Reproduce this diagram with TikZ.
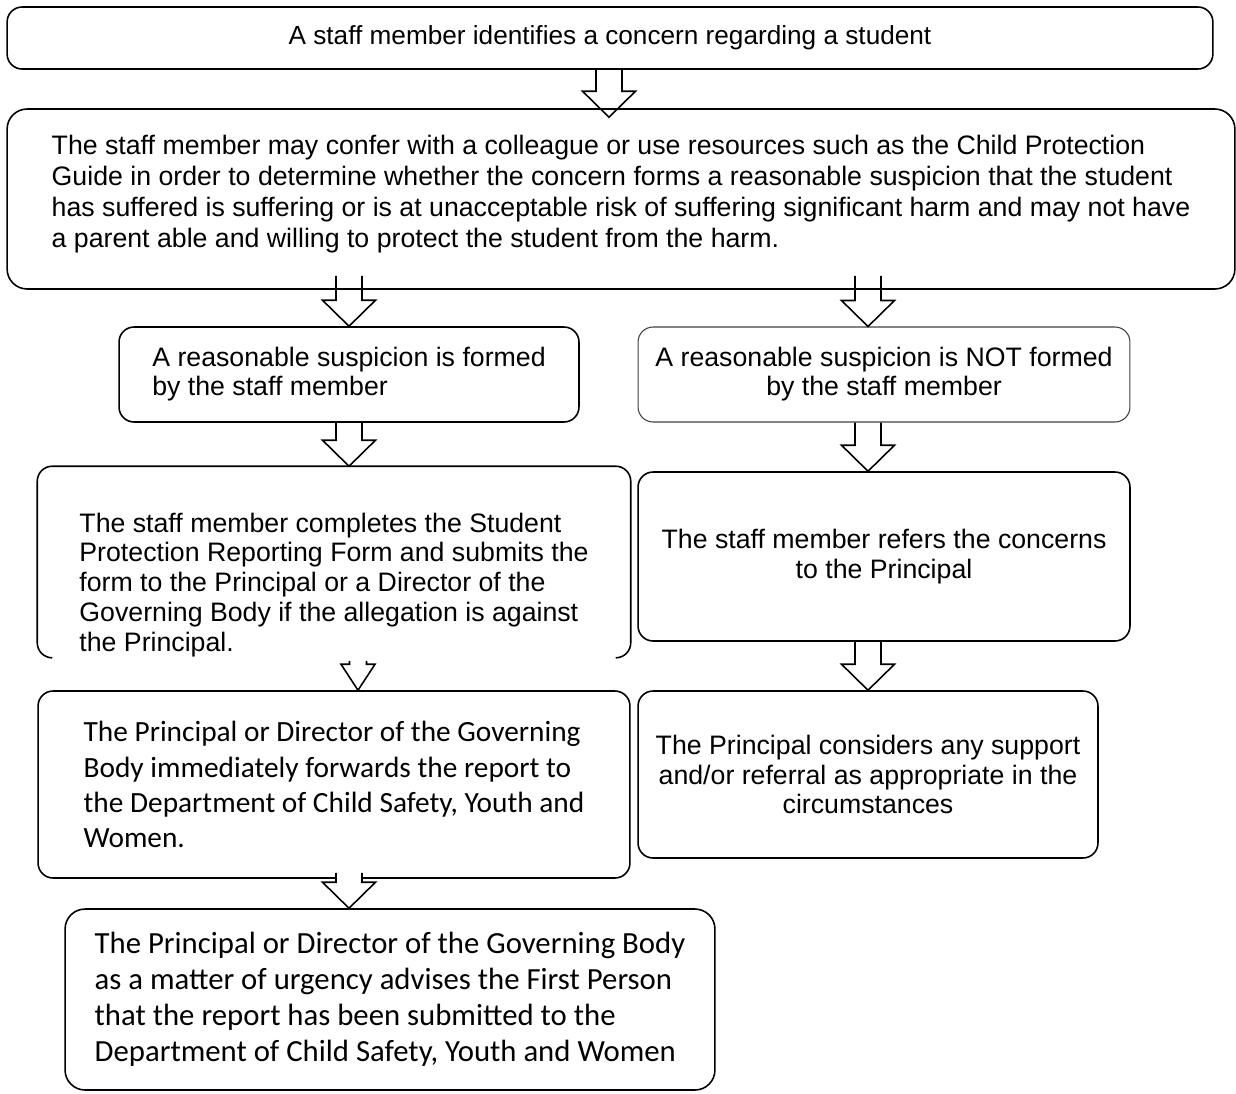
\documentclass[tikz,border=0pt]{standalone}
\usepackage{fontspec}
\setmainfont{Liberation Sans}
\newfontfamily\calibrifont{Carlito}
\usetikzlibrary{calc}
\newlength{\arrshaft}
\newlength{\arrhead}
\newlength{\arrlen}
\setlength{\arrshaft}{0.26cm}
\setlength{\arrhead}{0.53cm}
\setlength{\arrlen}{0.52cm}
\tikzset{
  flowbox/.style = {
    rectangle,
    draw,
    line width=0.9pt,
    rounded corners=0.3cm,
    align=left,
    inner sep=0pt,
    font=\fontsize{15.2}{16.6}\selectfont
  },
  flowboxc/.style = {
    flowbox,
    align=center
  },
  flowcal/.style = {
    flowbox,
    font=\calibrifont\fontsize{16.7}{20}\selectfont
  },
  blockarrow/.style = {
    draw,
    line width=0.9pt,
    line join=miter
  }
}
% hollow block arrow: start of shaft, tip
\newcommand{\hollowarrow}[3][fill=none]{%
  \path[#1] let \p1=(#2), \p2=(#3) in
    (\x1-\arrshaft,\y1) -- (\x1-\arrshaft,\y2+\arrlen) -- (\x1-\arrhead,\y2+\arrlen)
    -- (\x2,\y2) -- (\x1+\arrhead,\y2+\arrlen) -- (\x1+\arrshaft,\y2+\arrlen)
    -- (\x1+\arrshaft,\y1) -- cycle;
  \draw[blockarrow] let \p1=(#2), \p2=(#3) in
    (\x1-\arrshaft,\y1) -- (\x1-\arrshaft,\y2+\arrlen) -- (\x1-\arrhead,\y2+\arrlen)
    -- (\x2,\y2) -- (\x1+\arrhead,\y2+\arrlen) -- (\x1+\arrshaft,\y2+\arrlen)
    -- (\x1+\arrshaft,\y1);
}

\begin{document}
\begin{tikzpicture}[x=0.02cm, y=-0.02cm]
    \useasboundingbox (0,0) rectangle (1236,1093);
    \coordinate (colT) at (609,0);
    \coordinate (colL) at (349,0);
    \coordinate (colM) at (358,0);
    \coordinate (colR) at (868,0);

    \node[flowboxc, font=\fontsize{14.9}{17}\selectfont, minimum width=24.12cm, minimum height=1.24cm] (concern) at (610,38)
      {A staff member identifies a concern regarding a student};
    \node[flowbox, font=\fontsize{15.2}{17.6}\selectfont, rounded corners=0.4cm, minimum width=24.56cm, minimum height=3.6cm] (confer) at (621,199)
      {The staff member may confer with a colleague or use resources such as the Child Protection\\
       Guide in order to determine whether the concern forms a reasonable suspicion that the student\\
       has suffered is suffering or is at unacceptable risk of suffering significant harm and may not have\\
       a parent able and willing to protect the student from the harm.\rule[-0.3cm]{0pt}{0.3cm}};
    \node[flowbox, minimum width=9.2cm, minimum height=1.9cm] (formed) at (349,374.5)
      {A reasonable suspicion is formed\\ by the staff member};
    \node[flowboxc, draw=black!75, line width=0.6pt, minimum width=9.84cm, minimum height=1.9cm] (notformed) at (884,374.5)
      {A reasonable suspicion is NOT formed\\ by the staff member};
    \node[flowbox, font=\fontsize{15.2}{17}\selectfont, draw=none, minimum width=11.84cm, minimum height=3.6cm] (complete) at (334,562)
      {\rule{0pt}{1.3cm}The staff member completes the Student\\
       Protection Reporting Form and submits the\\
       form to the Principal or a Director of the\\
       Governing Body if the allegation is against\\
       the Principal.};
    \node[flowboxc, minimum width=9.84cm, minimum height=3.38cm] (refer) at (884,556.5)
      {The staff member refers the concerns\\ to the Principal};
    \node[flowcal, minimum width=11.84cm, minimum height=3.74cm] (forward) at (334,784.5)
      {The Principal or Director of the Governing\\
       Body immediately forwards the report to\\
       the Department of Child Safety, Youth and\\
       Women.};
    \node[flowboxc, minimum width=9.2cm, minimum height=3.34cm] (support) at (868,774.5)
      {The Principal considers any support\\ and/or referral as appropriate in the\\ circumstances};
    \node[flowcal, font=\calibrifont\fontsize{17.5}{20.4}\selectfont, rounded corners=0.4cm, minimum width=13cm, minimum height=3.62cm] (advise) at (390,999.5)
      {The Principal or Director of the Governing Body\\
       as a matter of urgency advises the First Person\\
       that the report has been submitted to the\\
       Department of Child Safety, Youth and Women};

    % open bottom of the form box
    \draw[line width=0.9pt, rounded corners=0.3cm]
      ([xshift=0.3cm]complete.south west) -- (complete.south west) -- (complete.north west)
      -- (complete.north east) -- (complete.south east) -- ([xshift=-0.3cm]complete.south east);

    \hollowarrow{concern.south -| colT}{$(confer.north -| colT)+(0,-0.18cm)$}
    \hollowarrow{$(confer.south -| colL)+(0,0.28cm)$}{formed.north -| colL}
    \hollowarrow{$(confer.south -| colR)+(0,0.28cm)$}{notformed.north -| colR}
    \hollowarrow{formed.south -| colL}{complete.north -| colL}
    \hollowarrow{notformed.south -| colR}{refer.north -| colR}
    \setlength{\arrshaft}{0.17cm}
    \setlength{\arrhead}{0.34cm}
    \hollowarrow{$(complete.south -| colM)+(0,-0.06cm)$}{forward.north -| colM}
    \setlength{\arrshaft}{0.26cm}
    \setlength{\arrhead}{0.53cm}
    \hollowarrow{refer.south -| colR}{support.north -| colR}
    \hollowarrow[fill=white]{$(forward.south -| colL)+(0,0.12cm)$}{advise.north -| colL}
  \end{tikzpicture}
\end{document}
